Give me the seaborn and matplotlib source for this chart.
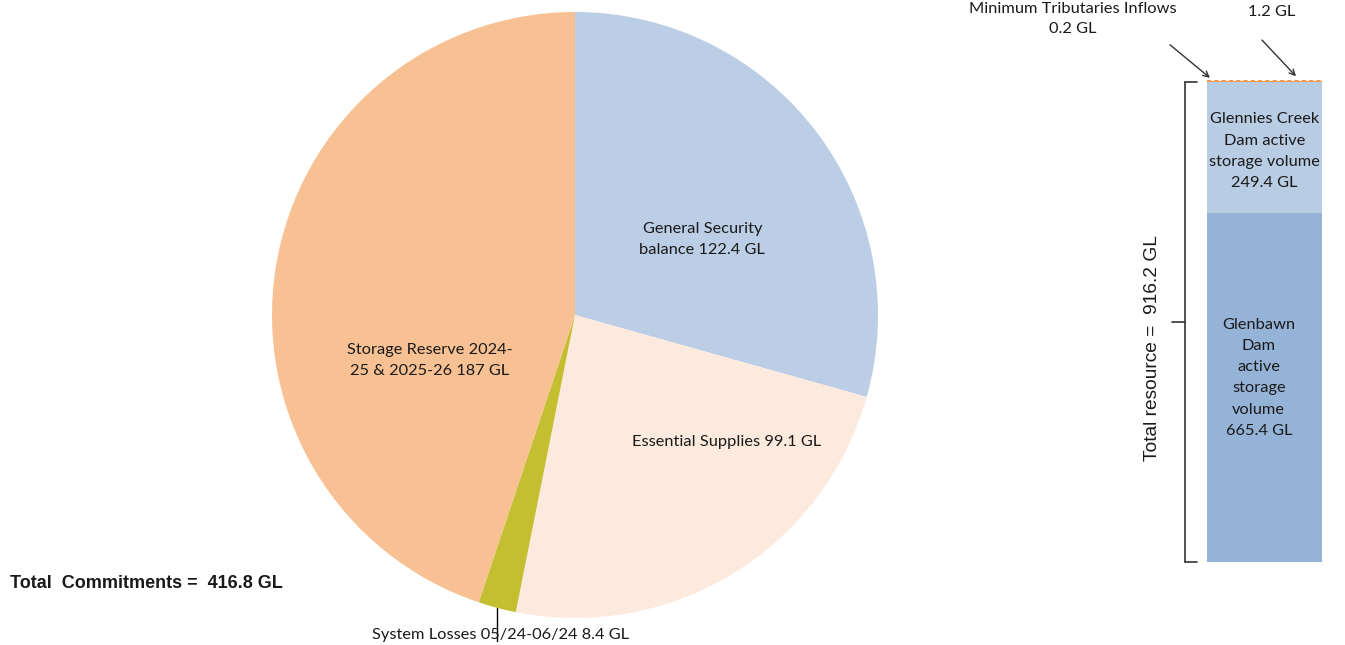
import numpy as np
import matplotlib
matplotlib.use("Agg")
import matplotlib.pyplot as plt
import seaborn as sns
import pandas as pd

# --- data ---
pie_labels = ["General Security\nbalance 122.4 GL", "Essential Supplies 99.1 GL",
              "System Losses 05/24-06/24 8.4 GL", "Storage Reserve 2024-\n25 & 2025-26 187 GL"]
pie_values = [122.4, 99.1, 8.4, 187.0]
pie_colors = ["#BCCDE6", "#FDEADE", "#C3BF31", "#F8C193"]

bar_labels = ["Glenbawn\nDam\nactive\nstorage\nvolume\n665.4 GL",
              "Glennies Creek\nDam active\nstorage volume\n249.4 GL",
              "1.2 GL", "Minimum Tributaries Inflows\n0.2 GL"]
bar_values = [665.4, 249.4, 1.2, 0.2]
bar_colors = ["#95B3D7", "#B8CCE4", "#F79646", "#F79646"]

total_commit = 416.8
total_resource = 916.2

sns.set_style("white")
plt.rcParams["font.family"] = ["Lato", "DejaVu Sans"]
plt.rcParams["text.color"] = "#1a1a1a"

W, H = 1345, 645
fig = plt.figure(figsize=(W / 100, H / 100), dpi=100)

def px_axes(x0, y0, x1, y1):
    return fig.add_axes([x0 / W, 1 - y1 / H, (x1 - x0) / W, (y1 - y0) / H])

fs = 11.8
ls = 1.65

# --- pie ---
ax = px_axes(272, 12, 878, 618)
wedges, _ = ax.pie(pie_values, colors=pie_colors, startangle=90, counterclock=False,
                   radius=1, wedgeprops=dict(linewidth=0))
ax.set_xlim(-1, 1)
ax.set_ylim(-1, 1)
ax.axis("off")

ax.text(0.42, 0.25, pie_labels[0], ha="center", va="center", fontsize=fs, linespacing=ls)
ax.text(0.50, -0.42, pie_labels[1], ha="center", va="center", fontsize=fs)
ax.text(-0.48, -0.15, pie_labels[3], ha="center", va="center", fontsize=fs, linespacing=ls)

w = wedges[2]
mid = np.deg2rad((w.theta1 + w.theta2) / 2)
ax.plot([np.cos(mid), np.cos(mid)], [np.sin(mid), -1.075], color="black", lw=1, clip_on=False)
ax.text(np.cos(mid) + 0.01, -1.055, pie_labels[2], ha="center", va="center", fontsize=fs)

fig.text(10 / W, 1 - 583 / H, f"Total  Commitments =  {total_commit} GL", fontsize=13,
         fontweight="bold", va="center", ha="left", family=["Liberation Sans", "DejaVu Sans"])

# --- stacked bar ---
bx = px_axes(1207, 81, 1322, 562)
df = pd.DataFrame({"seg": bar_labels, "val": bar_values, "col": bar_colors})
df["top"] = df["val"].cumsum()
for i in range(len(df) - 1, -1, -1):
    sns.barplot(x=["s"], y=[df["top"].iloc[i]], color=df["col"].iloc[i], width=1,
                saturation=1, ax=bx, linewidth=0)
top = df["top"].iloc[-1]
bx.set_xlim(-0.5, 0.5)
bx.set_ylim(0, top)
bx.axis("off")
bx.hlines(top, -0.5, 0.5, colors="#F79646", linestyles=(0, (2, 1.5)), lw=1.5, clip_on=False)

bottoms = df["top"] - df["val"]
bx.text(-0.05, bottoms.iloc[0] + df["val"].iloc[0] * 0.527, df["seg"].iloc[0],
        ha="center", va="center", fontsize=fs, linespacing=ls)
bx.text(0.0, bottoms.iloc[1] + df["val"].iloc[1] * 0.47, df["seg"].iloc[1],
        ha="center", va="center", fontsize=fs, linespacing=ls)

# arrows to small segments
arr = dict(arrowstyle="->", color="#333333", lw=1, shrinkA=0, shrinkB=0)
bx.annotate("", xy=(-0.474, top + 6), xytext=(-0.822, top + 69), annotation_clip=False,
            arrowprops=arr)
bx.text(-1.67, top + 118, bar_labels[3], ha="center", va="center", fontsize=fs,
        linespacing=1.55, clip_on=False)
bx.annotate("", xy=(0.274, top + 9), xytext=(-0.022, top + 78), annotation_clip=False,
            arrowprops=arr)
bx.text(0.065, top + 132, bar_labels[2], ha="center", va="center", fontsize=fs, clip_on=False)

# bracket
res = sum(bar_values[:2])
bk = dict(color="#333333", lw=1.2, clip_on=False)
bx.plot([-0.69, -0.69], [0, res], **bk)
bx.plot([-0.69, -0.59], [0, 0], **bk)
bx.plot([-0.69, -0.59], [res, res], **bk)
bx.plot([-0.80, -0.69], [res / 2, res / 2], **bk)
bx.text(-0.97, res * 0.445, f"Total resource =  {total_resource} GL", rotation=90,
        ha="center", va="center", fontsize=13.8, family=["Liberation Sans", "DejaVu Sans"])

fig.savefig("out.png", dpi=100)
